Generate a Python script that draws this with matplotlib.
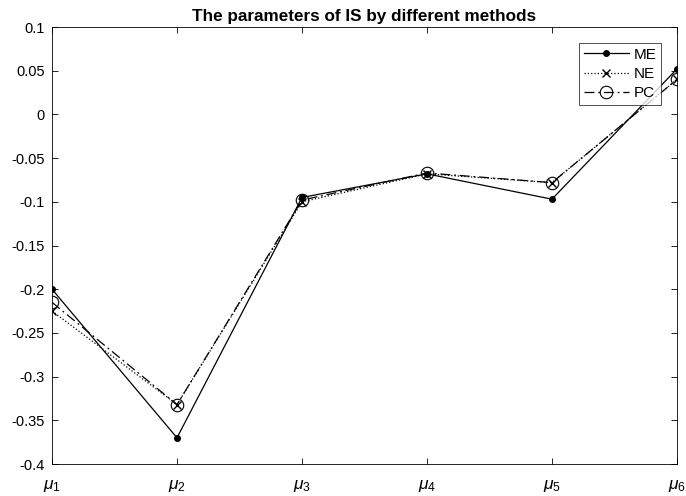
import matplotlib
matplotlib.use('Agg')
import matplotlib.pyplot as plt
import numpy as np

plt.rcParams['font.family'] = ['Liberation Sans', 'DejaVu Sans']
plt.rcParams['mathtext.fontset'] = 'custom'
plt.rcParams['mathtext.rm'] = 'Liberation Sans'
plt.rcParams['mathtext.it'] = 'Liberation Sans:italic'

# data
params = [r'$\mu_1$', r'$\mu_2$', r'$\mu_3$', r'$\mu_4$', r'$\mu_5$', r'$\mu_6$']
me = [-0.200, -0.370, -0.095, -0.068, -0.097, 0.052]
ne = [-0.225, -0.332, -0.100, -0.068, -0.078, 0.040]
pc = [-0.215, -0.332, -0.098, -0.067, -0.078, 0.040]
yticks = [-0.4, -0.35, -0.3, -0.25, -0.2, -0.15, -0.1, -0.05, 0, 0.05, 0.1]
ylabels = ['-0.4', '-0.35', '-0.3', '-0.25', '-0.2', '-0.15', '-0.1', '-0.05', '0', '0.05', '0.1']

x = np.arange(1, len(params) + 1)

fig = plt.figure(figsize=(6.86, 4.96), dpi=100)
ax = fig.add_axes([0.0758, 0.0645, 0.911, 0.881])

ax.plot(x, me, '-', color='k', lw=0.9, marker='o', ms=4, label='ME')
ax.plot(x, ne, ':', color='k', lw=0.9, marker='x', ms=6, label='NE')
ax.plot(x, pc, '-.', color='k', lw=0.9, marker='o', ms=9, mfc='none', mew=0.8,
        dashes=(8, 3, 1.5, 3), label='PC')

ax.set_xlim(1, 6)
ax.set_ylim(-0.4, 0.1)
ax.set_xticks(x)
ax.set_xticklabels(params, fontsize=12.5)
ax.set_yticks(yticks)
ax.set_yticklabels(ylabels, fontsize=10.5)
ax.tick_params(direction='in', length=4, width=0.6, top=True, right=True, pad=5)
ax.tick_params(axis='x', pad=10)
for s in ax.spines.values():
    s.set_linewidth(0.6)

ax.set_title('The parameters of IS by different methods', fontsize=12.3,
             fontweight='bold', pad=4)

leg = ax.legend(loc='upper right', bbox_to_anchor=(0.98, 0.97), fontsize=11,
                frameon=True, fancybox=False, edgecolor='k', handlelength=3,
                borderpad=0.3, labelspacing=0.35, handletextpad=0.3,
                borderaxespad=0.2)
leg.get_frame().set_linewidth(0.6)

fig.savefig('out.png', dpi=100)
